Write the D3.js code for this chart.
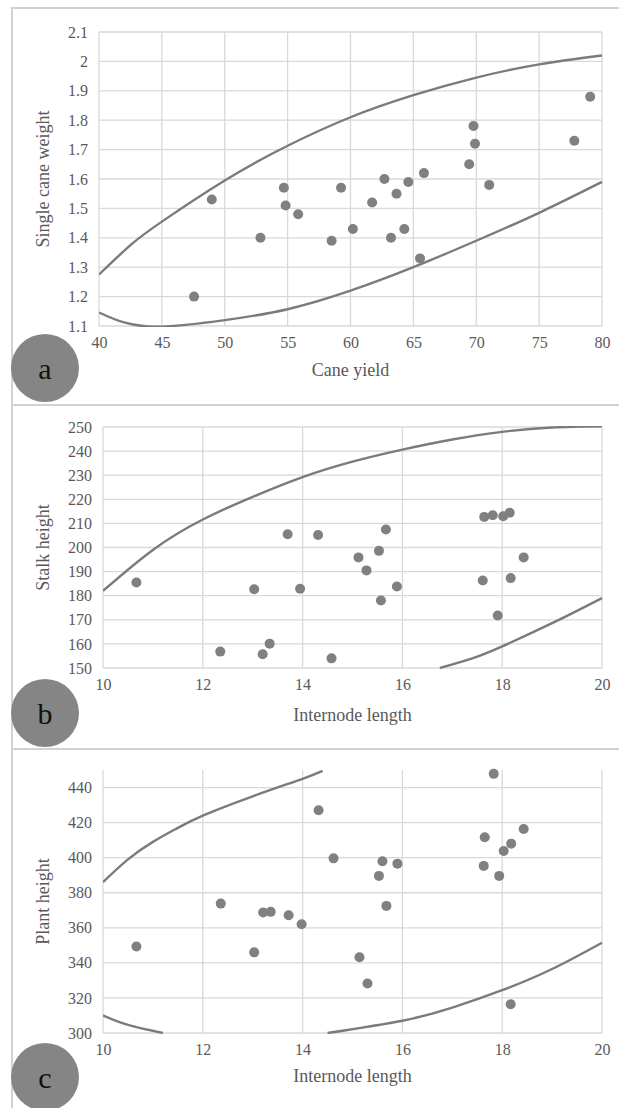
<!DOCTYPE html>
<html>
<head>
<meta charset="utf-8">
<script src="https://cdn.jsdelivr.net/npm/d3@7"></script>
<style>
  body { margin: 0; background: #fff; }
  svg { display: block; }
</style>
</head>
<body>
<svg id="chart" width="619" height="1108"></svg>
<script>
// ── DATA ──────────────────────────────────────────────────────
// Panel a — cane yield vs single cane weight
const caneYield        = [47.56, 48.97, 52.84, 54.7, 54.84, 55.84, 58.5, 59.25, 60.19, 61.72, 62.7, 63.22,
                          63.66, 64.28, 64.6, 65.53, 65.84, 69.44, 69.78, 69.9, 71.03, 77.8, 79.06];
const singleCaneWeight = [1.20, 1.53, 1.40, 1.57, 1.51, 1.48, 1.39, 1.57, 1.43, 1.52, 1.60, 1.40,
                          1.55, 1.43, 1.59, 1.33, 1.62, 1.65, 1.78, 1.72, 1.58, 1.73, 1.88];
const weightUpper = [[40, 1.275], [42.5, 1.375], [45, 1.455], [50, 1.595],
                     [55, 1.713], [60, 1.81], [65, 1.885], [70, 1.945], [75, 1.99], [80, 2.02]];
const weightLower = [[40, 1.146], [42, 1.112], [45, 1.098], [50, 1.12], [55, 1.157],
                     [60, 1.22], [65, 1.30], [70, 1.39], [75, 1.485], [80, 1.59]];
const yieldTicks  = [40, 45, 50, 55, 60, 65, 70, 75, 80];
const weightTicks = [1.1, 1.2, 1.3, 1.4, 1.5, 1.6, 1.7, 1.8, 1.9, 2, 2.1];

// Panel b — internode length vs stalk height
const internodeB  = [10.67, 12.35, 13.03, 13.2, 13.34, 13.7, 13.95, 14.31, 14.58, 15.12, 15.28, 15.53,
                     15.57, 15.67, 15.89, 17.61, 17.64, 17.81, 17.91, 18.02, 18.15, 18.17, 18.43];
const stalkHeight = [185.5, 156.8, 182.7, 155.7, 160.1, 205.5, 182.9, 205.2, 154, 195.9, 190.5, 198.6,
                     178, 207.5, 183.8, 186.3, 212.7, 213.4, 171.8, 213, 214.4, 187.3, 195.9];
const stalkUpper  = [[10, 182], [11, 199], [12, 211.6], [13, 221], [14, 229.2],
                     [15, 235.6], [16, 240.6], [17, 244.8], [18, 248], [19, 249.8], [20, 250.3]];
const stalkLower  = [[16.75, 150], [17.4, 154], [18, 159], [19, 168.6], [20, 179]];
const internodeTicks = [10, 12, 14, 16, 18, 20];
const stalkTicks  = [150, 160, 170, 180, 190, 200, 210, 220, 230, 240, 250];

// Panel c — internode length vs plant height
const internodeC  = [10.67, 12.36, 13.03, 13.21, 13.36, 13.72, 13.98, 14.32, 14.62, 15.14, 15.3, 15.53,
                     15.6, 15.68, 15.9, 17.63, 17.65, 17.83, 17.94, 18.03, 18.17, 18.18, 18.43];
const plantHeight = [349.3, 373.8, 346, 368.7, 369.1, 367.2, 362, 427, 399.6, 343.2, 328.2, 389.6,
                     398, 372.5, 396.6, 395.3, 411.6, 447.8, 389.6, 403.8, 316.4, 408, 416.3];
const plantUpper  = [[10, 386], [10.5, 399], [11, 409], [11.5, 417], [12, 424],
                     [13, 435], [14, 445], [14.4, 449.5]];
const plantLowerL = [[10, 310], [10.5, 304.6], [11.2, 300]];
const plantLowerR = [[14.5, 300], [16, 307], [17, 314.5], [18, 324.4], [19, 336.5], [20, 351.5]];
const plantTicks  = [300, 320, 340, 360, 380, 400, 420, 440];

// ── PANEL SETUP ───────────────────────────────────────────────
const panels = [
  {
    id: "a", xs: caneYield, ys: singleCaneWeight,
    xDomain: [40, 80], yDomain: [1.1, 2.1], xTicks: yieldTicks, yTicks: weightTicks,
    curves: [weightUpper, weightLower],
    xTitle: "Cane yield", yTitle: "Single cane weight",
    frame: [8, 405], plot: { left: 99, right: 602, top: 32, bottom: 326 },
    titleY: 372, badgeY: 368
  },
  {
    id: "b", xs: internodeB, ys: stalkHeight,
    xDomain: [10, 20], yDomain: [150, 250], xTicks: internodeTicks, yTicks: stalkTicks,
    curves: [stalkUpper, stalkLower],
    xTitle: "Internode length", yTitle: "Stalk height",
    frame: [405, 749], plot: { left: 103, right: 602, top: 427, bottom: 668 },
    titleY: 717, badgeY: 713
  },
  {
    id: "c", xs: internodeC, ys: plantHeight,
    xDomain: [10, 20], yDomain: [300, 450], xTicks: internodeTicks, yTicks: plantTicks,
    curves: [plantUpper, plantLowerL, plantLowerR],
    xTitle: "Internode length", yTitle: "Plant height",
    frame: [749, 1120], plot: { left: 103, right: 602, top: 770, bottom: 1033 },
    titleY: 1078, badgeY: 1077
  }
];

const svg = d3.select("#chart");
const serif = "'Liberation Serif', 'Times New Roman', serif";
const fmt = d3.format("~g");

// ── DRAW EACH PANEL ───────────────────────────────────────────
const drawPanel = (p) => {
  const g = svg.append("g").attr("class", `panel-${p.id}`);

  // frame
  g.append("rect")
    .attr("x", 12)
    .attr("y", p.frame[0])
    .attr("width", 640)
    .attr("height", p.frame[1] - p.frame[0])
    .attr("fill", "none")
    .attr("stroke", "#d2d2d2")
    .attr("stroke-width", 2);

  const x = d3.scaleLinear().domain(p.xDomain).range([p.plot.left, p.plot.right]);
  const y = d3.scaleLinear().domain(p.yDomain).range([p.plot.bottom, p.plot.top]);

  // gridlines
  g.append("g")
    .selectAll("line")
    .data(p.yTicks)
    .join("line")
      .attr("x1", p.plot.left)
      .attr("x2", p.plot.right)
      .attr("y1", d => y(d))
      .attr("y2", d => y(d))
      .attr("stroke", "#d9d9d9")
      .attr("stroke-width", 1.3);

  g.append("g")
    .selectAll("line")
    .data(p.xTicks)
    .join("line")
      .attr("x1", d => x(d))
      .attr("x2", d => x(d))
      .attr("y1", p.plot.top)
      .attr("y2", p.plot.bottom)
      .attr("stroke", "#d9d9d9")
      .attr("stroke-width", 1.3);

  // axes (labels only)
  const xAxis = g.append("g")
    .attr("transform", `translate(0, ${p.plot.bottom + 8})`)
    .call(d3.axisBottom(x).tickValues(p.xTicks).tickSize(0).tickFormat(fmt));
  const yAxis = g.append("g")
    .attr("transform", `translate(${p.plot.left - 8}, 0)`)
    .call(d3.axisLeft(y).tickValues(p.yTicks).tickSize(0).tickFormat(fmt));

  [xAxis, yAxis].forEach(ax => {
    ax.attr("font-family", serif).attr("font-size", 16);
    ax.select(".domain").remove();
    ax.selectAll("text")
      .attr("fill", "#595959")
      .style("font-family", serif)
      .style("font-size", "16px");
  });

  // curves, clipped to the plot area
  g.append("clipPath")
    .attr("id", `clip-${p.id}`)
    .append("rect")
      .attr("x", p.plot.left)
      .attr("y", p.plot.top - 1)
      .attr("width", p.plot.right - p.plot.left + 1)
      .attr("height", p.plot.bottom - p.plot.top + 2);

  const line = d3.line()
    .x(d => x(d[0]))
    .y(d => y(d[1]))
    .curve(d3.curveNatural);

  g.append("g")
    .attr("clip-path", `url(#clip-${p.id})`)
    .selectAll("path")
    .data(p.curves)
    .join("path")
      .attr("d", line)
      .attr("fill", "none")
      .attr("stroke", "#7b7b7b")
      .attr("stroke-width", 2.4);

  // points
  g.append("g")
    .selectAll("circle")
    .data(d3.zip(p.xs, p.ys))
    .join("circle")
      .attr("cx", d => x(d[0]))
      .attr("cy", d => y(d[1]))
      .attr("r", 5)
      .attr("fill", "#808080");

  // axis titles
  g.append("text")
    .attr("x", (p.plot.left + p.plot.right) / 2)
    .attr("y", p.titleY)
    .attr("text-anchor", "middle")
    .attr("dominant-baseline", "middle")
    .attr("fill", "#595959")
    .style("font-family", serif)
    .style("font-size", "18px")
    .text(p.xTitle);

  g.append("text")
    .attr("transform", `translate(45, ${(p.plot.top + p.plot.bottom) / 2}) rotate(-90)`)
    .attr("text-anchor", "middle")
    .attr("dominant-baseline", "middle")
    .attr("fill", "#595959")
    .style("font-family", serif)
    .style("font-size", "18px")
    .text(p.yTitle);

  // letter badge
  g.append("circle")
    .attr("cx", 45)
    .attr("cy", p.badgeY)
    .attr("r", 34)
    .attr("fill", "#858585");

  g.append("text")
    .attr("x", 45)
    .attr("y", p.badgeY)
    .attr("text-anchor", "middle")
    .attr("dominant-baseline", "central")
    .attr("fill", "#111")
    .style("font-family", serif)
    .style("font-size", "30px")
    .text(p.id);
};

panels.forEach(drawPanel);
</script>
</body>
</html>
